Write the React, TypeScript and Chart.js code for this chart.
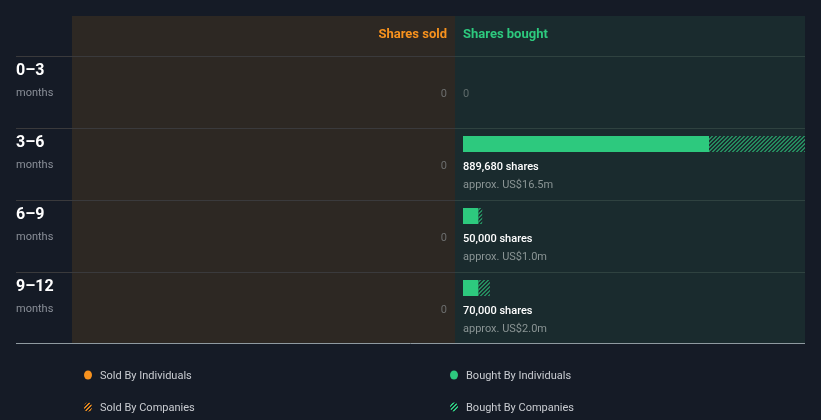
import React, { useEffect, useRef } from "react";
import { Chart, registerables } from "chart.js";

Chart.register(...registerables);

const periods = ["0–3", "3–6", "6–9", "9–12"];
const periodUnit = "months";
const soldIndividuals = [0, 0, 0, 0];
const soldCompanies = [0, 0, 0, 0];
const boughtIndividuals = [0, 640000, 40000, 40000];
const boughtCompanies = [0, 249680, 10000, 30000];
const boughtValueLabels = ["", "approx. US$16.5m", "approx. US$1.0m", "approx. US$2.0m"];
const headerSold = "Shares sold";
const headerBought = "Shares bought";
const legendLabels = ["Sold By Individuals", "Bought By Individuals", "Sold By Companies", "Bought By Companies"];

const BG = "#151b26";
const SOLD_BG = "#2d2823";
const BOUGHT_BG = "#1a2b2e";
const GREEN = "#2dc97e";
const ORANGE = "#f7921e";
const FONT = "Roboto, 'Noto Sans', sans-serif";

function makePattern(color: string) {
  const c = document.createElement("canvas");
  c.width = 4;
  c.height = 4;
  const g = c.getContext("2d")!;
  g.fillStyle = color;
  for (let i = 0; i < 4; i++) {
    g.fillRect(i, 3 - i, 1, 1);
    g.fillRect((i + 1) % 4, 3 - i, 1, 1);
  }
  return g.createPattern(c, "repeat")!;
}

export default function App() {
  const ref = useRef<HTMLCanvasElement>(null);
  useEffect(() => {
    document.body.style.margin = "0";
    document.body.style.background = BG;
    const canvas = ref.current!;
    const ctx0 = canvas.getContext("2d")!;
    const greenHatch = makePattern("rgba(45,201,126,0.6)");
    const orangeHatch = makePattern("rgba(247,146,30,0.9)");
    const totals = boughtIndividuals.map((v, i) => v + boughtCompanies[i]);
    const soldTotals = soldIndividuals.map((v, i) => v + soldCompanies[i]);
    const maxTotal = Math.max(...totals);

    const panels = {
      id: "panels",
      beforeDraw(chart: any) {
        const ctx = chart.ctx;
        const y = chart.scales.y;
        const ca = chart.chartArea;
        const W = chart.width;
        ctx.save();
        ctx.fillStyle = BG;
        ctx.fillRect(0, 0, W, chart.height);
        const firstTop = y.getPixelForValue(0) - 16;
        const step = y.getPixelForValue(1) - y.getPixelForValue(0);
        const bottom = firstTop + step * periods.length - 1;
        const top = firstTop - 40;
        const divX = ca.left - 8;
        ctx.fillStyle = SOLD_BG;
        ctx.fillRect(72, top, divX - 72, bottom - top);
        ctx.fillStyle = BOUGHT_BG;
        ctx.fillRect(divX, top, ca.right - divX, bottom - top);
        for (let i = 0; i < periods.length; i++) {
          const ly = Math.round(firstTop + step * i) + 0.5;
          ctx.strokeStyle = "#3a3a3c";
          ctx.lineWidth = 1;
          ctx.beginPath();
          ctx.moveTo(16, ly);
          ctx.lineTo(divX, ly);
          ctx.stroke();
          ctx.strokeStyle = "#2f4240";
          ctx.beginPath();
          ctx.moveTo(divX, ly);
          ctx.lineTo(ca.right, ly);
          ctx.stroke();
        }
        ctx.strokeStyle = "#8f9aa0";
        ctx.beginPath();
        ctx.moveTo(16, bottom + 0.5);
        ctx.lineTo(ca.right, bottom + 0.5);
        ctx.stroke();
        ctx.restore();
      },
      afterDraw(chart: any) {
        const ctx = chart.ctx;
        const y = chart.scales.y;
        const ca = chart.chartArea;
        const firstTop = y.getPixelForValue(0) - 16;
        const step = y.getPixelForValue(1) - y.getPixelForValue(0);
        const divX = ca.left - 8;
        ctx.save();
        ctx.textBaseline = "middle";
        ctx.font = `bold 13px ${FONT}`;
        ctx.fillStyle = ORANGE;
        ctx.textAlign = "right";
        ctx.fillText(headerSold, divX - 8, firstTop - 21);
        ctx.fillStyle = GREEN;
        ctx.textAlign = "left";
        ctx.fillText(headerBought, ca.left, firstTop - 21);
        for (let i = 0; i < periods.length; i++) {
          const rt = firstTop + step * i;
          ctx.textAlign = "left";
          ctx.fillStyle = "#ffffff";
          ctx.font = `bold 16px ${FONT}`;
          ctx.fillText(periods[i], 16, rt + 15);
          ctx.fillStyle = "#8a8f98";
          ctx.font = `11px ${FONT}`;
          ctx.fillText(periodUnit, 16, rt + 37);
          ctx.fillStyle = "#6c6e6e";
          ctx.textAlign = "right";
          ctx.fillText(soldTotals[i].toLocaleString("en-US"), divX - 8, rt + 38);
          ctx.textAlign = "left";
          if (totals[i] === 0) {
            ctx.fillStyle = "#5f6b6b";
            ctx.fillText("0", ca.left, rt + 38);
          } else {
            ctx.fillStyle = "#ffffff";
            ctx.font = `500 11px ${FONT}`;
            ctx.fillText(totals[i].toLocaleString("en-US") + " shares", ca.left, rt + 39);
            ctx.fillStyle = "#8a9494";
            ctx.font = `11px ${FONT}`;
            ctx.fillText(boughtValueLabels[i], ca.left, rt + 57);
          }
        }
        const legendPos = [
          [88, 375],
          [454, 375],
          [88, 407],
          [454, 407],
        ];
        const fills = [ORANGE, GREEN, orangeHatch, makePattern(GREEN)];
        legendLabels.forEach((lab, k) => {
          const [lx, ly] = legendPos[k];
          ctx.save();
          ctx.beginPath();
          ctx.ellipse(lx, ly, 4, 4.5, 0, 0, Math.PI * 2);
          ctx.fillStyle = fills[k] as any;
          ctx.fill();
          ctx.restore();
          ctx.fillStyle = "#c9ccd1";
          ctx.font = `11px ${FONT}`;
          ctx.textAlign = "left";
          ctx.textBaseline = "middle";
          ctx.fillText(lab, lx + 12, ly + 1);
        });
        ctx.restore();
      },
    };

    const common = { stack: "all", barThickness: 16, borderWidth: 0, inflateAmount: 0 };
    const chart = new Chart(ctx0, {
      type: "bar",
      data: {
        labels: periods,
        datasets: [
          { label: "Sold By Individuals", data: soldIndividuals, backgroundColor: ORANGE, ...common },
          { label: "Sold By Companies", data: soldCompanies, backgroundColor: orangeHatch as any, ...common },
          { label: "Bought By Individuals", data: boughtIndividuals, backgroundColor: GREEN, ...common },
          { label: "Bought By Companies", data: boughtCompanies, backgroundColor: greenHatch as any, ...common },
        ] as any,
      },
      options: {
        indexAxis: "y",
        responsive: false,
        animation: false,
        layout: { padding: { left: 463, right: 16, top: 36, bottom: 96 } },
        scales: {
          x: { stacked: true, min: 0, max: maxTotal, display: false },
          y: { stacked: true, display: false },
        },
        plugins: { legend: { display: false }, tooltip: { enabled: false } },
      },
      plugins: [panels],
    });
    return () => chart.destroy();
  }, []);
  return (
    <div style={{ width: 821, height: 420 }}>
      <canvas ref={ref} width={821} height={420} style={{ width: 821, height: 420, display: "block" }} />
    </div>
  );
}
